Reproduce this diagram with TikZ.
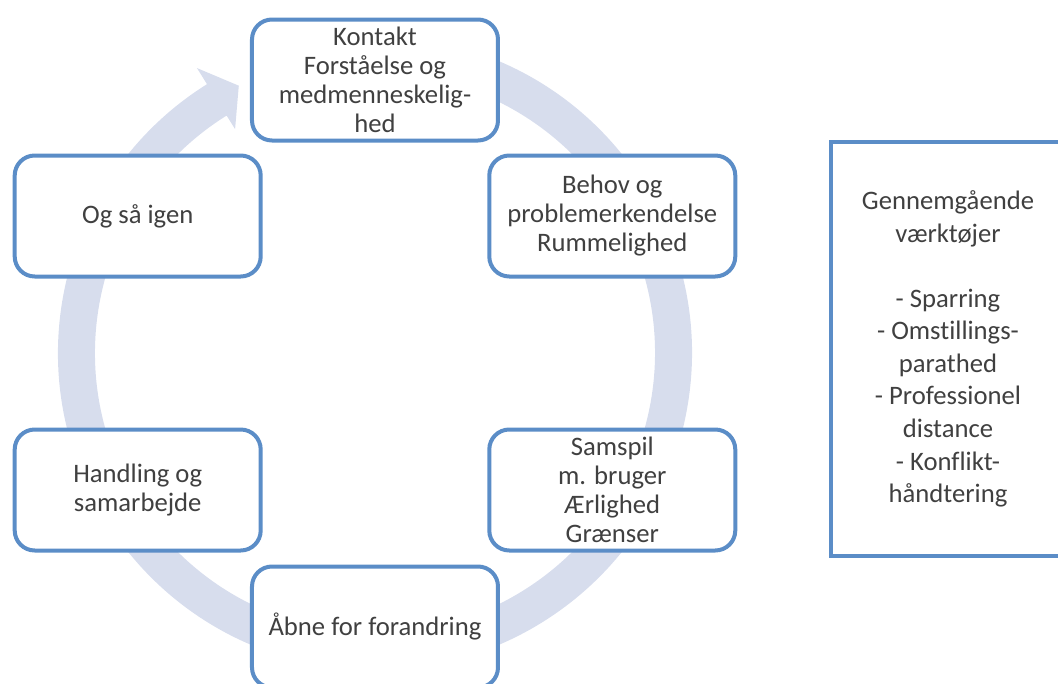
\documentclass[tikz,border=0pt]{standalone}
\usepackage{fontspec}
\setmainfont{Carlito}[Ligatures=NoCommon]
\usepackage{tikz}
\usetikzlibrary{positioning}
\definecolor{boxblue}{RGB}{91,141,199}
\definecolor{ringblue}{RGB}{215,221,237}
\definecolor{textgray}{RGB}{64,64,64}

\begin{document}
\begin{tikzpicture}[
	x=0.75pt, y=0.75pt,
	stage/.style={rectangle, draw=boxblue, fill=white, line width=3pt, rounded corners=15pt,
		minimum width=184.5pt, minimum height=90.75pt, align=center,
		text=textgray, font=\fontsize{20}{21.75}\selectfont},
	tools/.style={rectangle, draw=boxblue, fill=white, line width=3pt,
		minimum width=175.5pt, minimum height=311pt, align=center,
		text=textgray, font=\fontsize{20}{24.4}\selectfont},
	ring/.style={fill=ringblue, draw=none}
	]
	
	% Frame of the page
	\useasboundingbox (-375,-330) rectangle (683,353);
	\clip (-375,-330) rectangle (683,353);
	
	% Circular arrow behind the cycle
	\fill[ring] (80:317) arc[start angle=80, end angle=-238, radius=317]
		-- (122:336) -- (117:300) -- (122:264) -- (122:280)
		arc[start angle=-238, end angle=80, radius=280] -- cycle;
	
	% Cycle stages
	\node[stage] (kontakt) at (90:273) {Kontakt\\Forståelse og\\medmenneskelig-\\hed};
	\node[stage] (behov) at (30:274) {Behov og\\problemerkendelse\\Rummelighed};
	\node[stage] (samspil) at (-30:274) {Samspil\\m. bruger\\Ærlighed\\Grænser};
	\node[stage] (aabne) at (-90:274) {Åbne for forandring};
	\node[stage] (handling) at (210:274) {Handling og\\samarbejde};
	\node[stage] (igen) at (150:274) {Og så igen};
	
	% Tools used throughout
	\node[tools] (vaerktoejer) at (573,4) {Gennemgående\\værktøjer\\[24.4pt]- Sparring\\- Omstillings-\\parathed\\- Professionel\\distance\\- Konflikt-\\håndtering};
	
\end{tikzpicture}
\end{document}
